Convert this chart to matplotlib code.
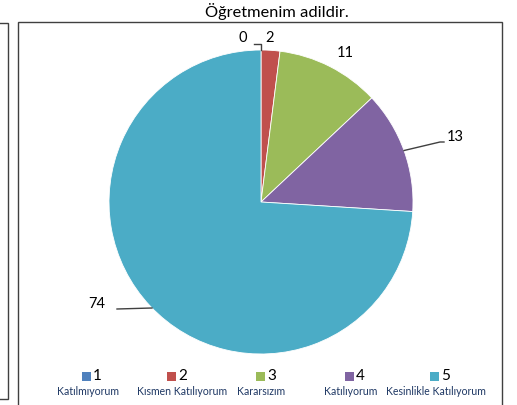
import matplotlib
matplotlib.use("Agg")
import matplotlib.pyplot as plt
from matplotlib.patches import Rectangle
import numpy as np

plt.rcParams['font.family'] = ['Lato', 'DejaVu Sans']

title = "Öğretmenim adildir."
codes = ["1", "2", "3", "4", "5"]
names = ["Katılmıyorum", "Kısmen Katılıyorum", "Kararsızım", "Katılıyorum", "Kesinlikle Katılıyorum"]
values = [0, 2, 11, 13, 74]
colors = ["#4F81BD", "#C0504D", "#9BBB59", "#8064A2", "#4BACC6"]

W, H = 517, 406
fig = plt.figure(figsize=(W / 100, H / 100), dpi=100)

def fx(px):
    return px / W

def fy(py):
    return 1 - py / H

# frames
fig.add_artist(Rectangle((fx(18), fy(420)), fx(502) - fx(18), fy(23) - fy(420),
                         transform=fig.transFigure, fill=False, edgecolor="#404040", lw=1.0))
fig.add_artist(Rectangle((fx(-20), fy(400)), fx(8) - fx(-20), fy(24) - fy(400),
                         transform=fig.transFigure, fill=False, edgecolor="#404040", lw=1.0))

fig.text(fx(277), fy(11), title, ha="center", va="center", fontsize=11.8, color="#000000")

cx, cy, r = 261, 203, 152
ax = fig.add_axes([fx(cx - r), fy(cy + r), (2 * r) / W, (2 * r) / H])
wedges, _ = ax.pie(values, colors=colors, startangle=90, counterclock=False,
                   radius=1, wedgeprops=dict(edgecolor="white", linewidth=0.6))
ax.set_xlim(-1, 1)
ax.set_ylim(-1, 1)
ax.set_aspect("equal")
ax.axis("off")

# data labels (positions in pixel coords of the figure)
label_pos = [(243, 38), (270, 38), (345, 53), (455, 137), (97, 304)]
for i, v in enumerate(values):
    lx, ly = label_pos[i]
    fig.text(fx(lx), fy(ly), str(v), ha="center", va="center", fontsize=10.5, color="#000000")

def pt_on(angle_deg, rad=1.0):
    a = np.deg2rad(angle_deg)
    return rad * np.cos(a), rad * np.sin(a)

def px_to_data(px, py):
    return ((px - cx) / r, (cy - py) / r)

line_kw = dict(color="#404040", lw=1.0)
# leader for 0
a0 = (wedges[0].theta1 + wedges[0].theta2) / 2
x0, y0 = pt_on(a0)
_, yb = px_to_data(0, 45)
xl, _ = px_to_data(254, 0)
ax.plot([x0, x0, xl], [y0, yb, yb], clip_on=False, **line_kw)
# leader for 13
a3 = (wedges[3].theta1 + wedges[3].theta2) / 2
x3, y3 = pt_on(a3)
ex, ey = px_to_data(440, 143)
ax.plot([x3, ex, ex + 4 / r], [y3, ey, ey], clip_on=False, **line_kw)
# leader for 74
lx4, ly4 = px_to_data(117, 310)
mx4, my4 = px_to_data(152, 309)
ax.plot([lx4, mx4], [ly4, my4], clip_on=False, **line_kw)

# legend
leg_sq_x = [86, 171, 260, 349, 434]
leg_name_x = [88, 182, 261, 351, 436]
for i in range(5):
    sx = leg_sq_x[i]
    fig.add_artist(Rectangle((fx(sx - 4.5), fy(382)), 9 / W, 9 / H, transform=fig.transFigure,
                             facecolor=colors[i], edgecolor="none"))
    fig.text(fx(sx + 7), fy(376), codes[i], ha="left", va="center", fontsize=11, color="#000000")
    fig.text(fx(leg_name_x[i]), fy(392), names[i], ha="center", va="center", fontsize=7.6, color="#1F3864")

fig.savefig("out.png", dpi=100)
